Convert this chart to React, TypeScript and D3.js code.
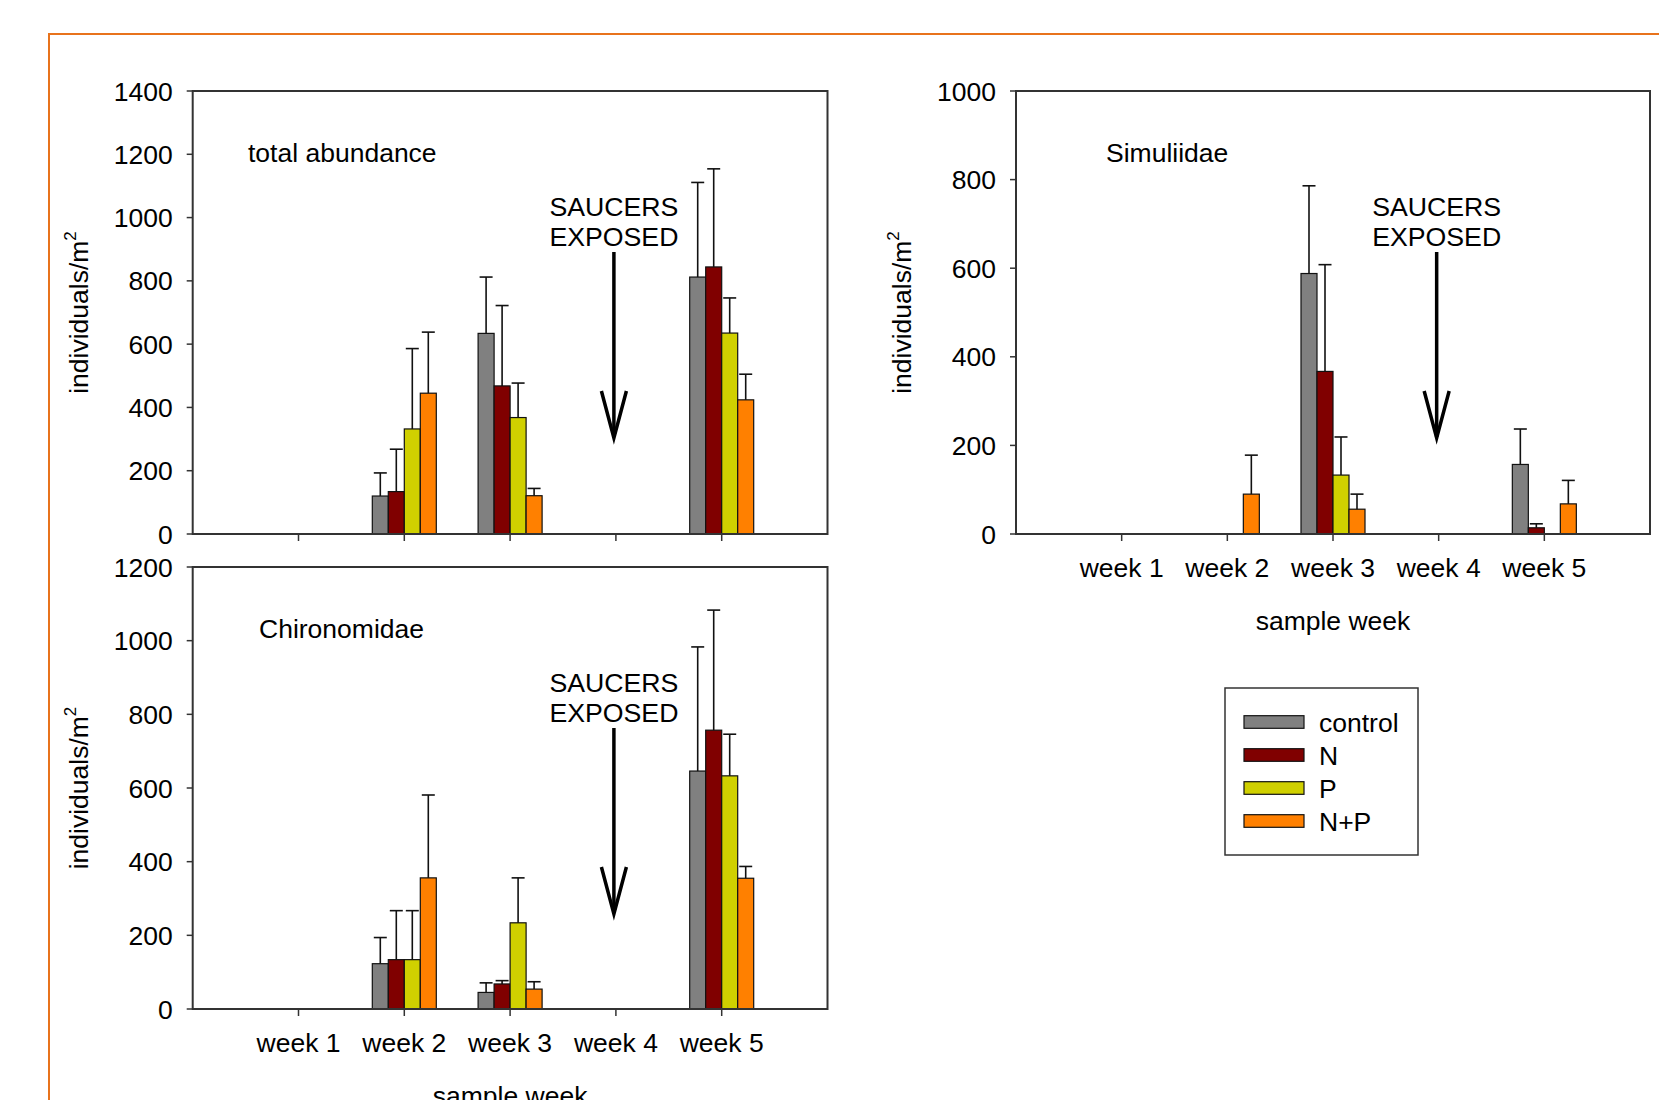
import React from "react";
import * as d3 from "d3";

const weeks = ["week 1", "week 2", "week 3", "week 4", "week 5"];
const seriesNames = ["control", "N", "P", "N+P"];
const seriesColors = ["#808080", "#800000", "#D0D000", "#FF8000"];

// total abundance (means and standard errors)
const totalControl = [0, 120, 634, 0, 812];
const totalN = [0, 134, 468, 0, 844];
const totalP = [0, 332, 368, 0, 635];
const totalNP = [0, 445, 121, 0, 424];
const totalControlErr = [0, 73, 178, 0, 299];
const totalNErr = [0, 134, 254, 0, 310];
const totalPErr = [0, 254, 109, 0, 111];
const totalNPErr = [0, 193, 23, 0, 81];

// Simuliidae
const simControl = [0, 0, 588, 0, 157];
const simN = [0, 0, 367, 0, 14];
const simP = [0, 0, 133, 0, 0];
const simNP = [0, 90, 56, 0, 68];
const simControlErr = [0, 0, 198, 0, 80];
const simNErr = [0, 0, 241, 0, 9];
const simPErr = [0, 0, 86, 0, 0];
const simNPErr = [0, 88, 34, 0, 53];

// Chironomidae
const chiControl = [0, 123, 45, 0, 646];
const chiN = [0, 134, 68, 0, 757];
const chiP = [0, 134, 234, 0, 633];
const chiNP = [0, 356, 54, 0, 355];
const chiControlErr = [0, 71, 26, 0, 337];
const chiNErr = [0, 133, 9, 0, 326];
const chiPErr = [0, 133, 122, 0, 113];
const chiNPErr = [0, 225, 20, 0, 32];

const totalTicks = [0, 200, 400, 600, 800, 1000, 1200, 1400];
const simTicks = [0, 200, 400, 600, 800, 1000];
const chiTicks = [0, 200, 400, 600, 800, 1000, 1200];

const FONT = "'Liberation Sans', Arial, Helvetica, sans-serif";
const FS = 26.5;

type PanelProps = {
  left: number;
  top: number;
  width: number;
  height: number;
  yMax: number;
  ticks: number[];
  values: number[][];
  errors: number[][];
  title: string;
  titleX: number;
  showXLabels: boolean;
};

function Panel(p: PanelProps) {
  const { left, top, width, height, yMax, ticks, values, errors, title, titleX, showXLabels } = p;
  const bottom = top + height;
  const y = d3.scaleLinear().domain([0, yMax]).range([bottom, top]);
  const x = d3.scaleLinear().domain([0, 6]).range([left, left + width]);
  const groupW = 64;
  const inner = d3.scaleBand<number>().domain(d3.range(seriesNames.length)).range([-groupW / 2, groupW / 2]).padding(0);
  const bw = inner.bandwidth();
  const arrowX = x(4) - 2;
  const capHalf = 6.5;

  return (
    <g>
      {/* bars */}
      {weeks.map((w, i) =>
        seriesNames.map((s, j) => {
          const v = values[j][i];
          if (!v) return null;
          const bx = x(i + 1) + (inner(j) as number);
          return (
            <rect
              key={`b-${i}-${j}`}
              x={bx}
              y={y(v)}
              width={bw}
              height={bottom - y(v)}
              fill={seriesColors[j]}
              stroke="#111"
              strokeWidth={1.2}
            />
          );
        })
      )}
      {/* error bars */}
      {weeks.map((w, i) =>
        seriesNames.map((s, j) => {
          const v = values[j][i];
          const e = errors[j][i];
          if (!e) return null;
          const cx = x(i + 1) + (inner(j) as number) + bw / 2;
          return (
            <g key={`e-${i}-${j}`} stroke="#111" strokeWidth={1.6}>
              <line x1={cx} x2={cx} y1={y(v)} y2={y(v + e)} />
              <line x1={cx - capHalf} x2={cx + capHalf} y1={y(v + e)} y2={y(v + e)} />
            </g>
          );
        })
      )}
      {/* frame */}
      <rect x={left} y={top} width={width} height={height} fill="none" stroke="#333" strokeWidth={2} />
      {/* y ticks */}
      {ticks.map((t) => (
        <g key={`yt-${t}`}>
          <line x1={left - 6} x2={left} y1={y(t)} y2={y(t)} stroke="#333" strokeWidth={1.5} />
          <text
            x={left - 20}
            y={y(t)}
            dy="0.36em"
            textAnchor="end"
            fontFamily={FONT}
            fontSize={FS}
            fill="#000"
          >
            {t}
          </text>
        </g>
      ))}
      {/* x ticks */}
      {weeks.map((w, i) => (
        <g key={`xt-${i}`}>
          <line x1={x(i + 1)} x2={x(i + 1)} y1={bottom} y2={bottom + 7} stroke="#333" strokeWidth={1.5} />
          {showXLabels && (
            <text x={x(i + 1)} y={bottom + 43} textAnchor="middle" fontFamily={FONT} fontSize={FS} fill="#000">
              {w}
            </text>
          )}
        </g>
      ))}
      {showXLabels && (
        <text x={left + width / 2} y={bottom + 96} textAnchor="middle" fontFamily={FONT} fontSize={FS} fill="#000">
          sample week
        </text>
      )}
      {/* y label */}
      <text
        transform={`translate(${left - 105},${top + height / 2}) rotate(-90)`}
        textAnchor="middle"
        fontFamily={FONT}
        fontSize={FS}
        fill="#000"
      >
        individuals/m
        <tspan fontSize={17} dy={-12}>2</tspan>
      </text>
      {/* title */}
      <text x={titleX} y={top + 71} fontFamily={FONT} fontSize={FS} fill="#000">
        {title}
      </text>
      {/* saucers exposed annotation */}
      <text x={arrowX} y={top + 125} textAnchor="middle" fontFamily={FONT} fontSize={26.7} fill="#000">
        SAUCERS
      </text>
      <text x={arrowX} y={top + 155} textAnchor="middle" fontFamily={FONT} fontSize={26.7} fill="#000">
        EXPOSED
      </text>
      <g stroke="#000" strokeWidth={3.5} fill="none" strokeLinecap="butt">
        <line x1={arrowX} x2={arrowX} y1={top + 161} y2={top + 346} />
        <polyline points={`${arrowX - 12.5},${top + 300} ${arrowX},${top + 347} ${arrowX + 12.5},${top + 300}`} />
      </g>
    </g>
  );
}

function Legend() {
  const lx = 1225;
  const ly = 688;
  const rowY = d3.scaleLinear().domain([0, 3]).range([722, 821]);
  return (
    <g>
      <rect x={lx} y={ly} width={193} height={167} fill="#fff" stroke="#333" strokeWidth={1.5} />
      {seriesNames.map((s, j) => (
        <g key={`lg-${j}`}>
          <rect x={1244} y={rowY(j) - 6.3} width={60} height={12.6} fill={seriesColors[j]} stroke="#111" strokeWidth={1.2} />
          <text x={1319} y={rowY(j)} dy="0.36em" fontFamily={FONT} fontSize={FS} fill="#000">
            {s}
          </text>
        </g>
      ))}
    </g>
  );
}

export default function App() {
  return (
    <div style={{ position: "absolute", left: 0, top: 0, width: 1659, height: 1100, overflow: "hidden", background: "#fff" }}>
      <svg width={1659} height={1100} style={{ display: "block" }}>
        <rect x={0} y={0} width={1659} height={1100} fill="#fff" />
        <rect x={49} y={34} width={2000} height={2000} fill="none" stroke="#E8731C" strokeWidth={2} />
        <Panel
          left={192.7}
          top={91}
          width={634.8}
          height={443}
          yMax={1400}
          ticks={totalTicks}
          values={[totalControl, totalN, totalP, totalNP]}
          errors={[totalControlErr, totalNErr, totalPErr, totalNPErr]}
          title="total abundance"
          titleX={248}
          showXLabels={false}
        />
        <Panel
          left={1016}
          top={91}
          width={634}
          height={443}
          yMax={1000}
          ticks={simTicks}
          values={[simControl, simN, simP, simNP]}
          errors={[simControlErr, simNErr, simPErr, simNPErr]}
          title="Simuliidae"
          titleX={1106}
          showXLabels={true}
        />
        <Panel
          left={192.7}
          top={567}
          width={634.8}
          height={442}
          yMax={1200}
          ticks={chiTicks}
          values={[chiControl, chiN, chiP, chiNP]}
          errors={[chiControlErr, chiNErr, chiPErr, chiNPErr]}
          title="Chironomidae"
          titleX={259}
          showXLabels={true}
        />
        <Legend />
      </svg>
    </div>
  );
}
